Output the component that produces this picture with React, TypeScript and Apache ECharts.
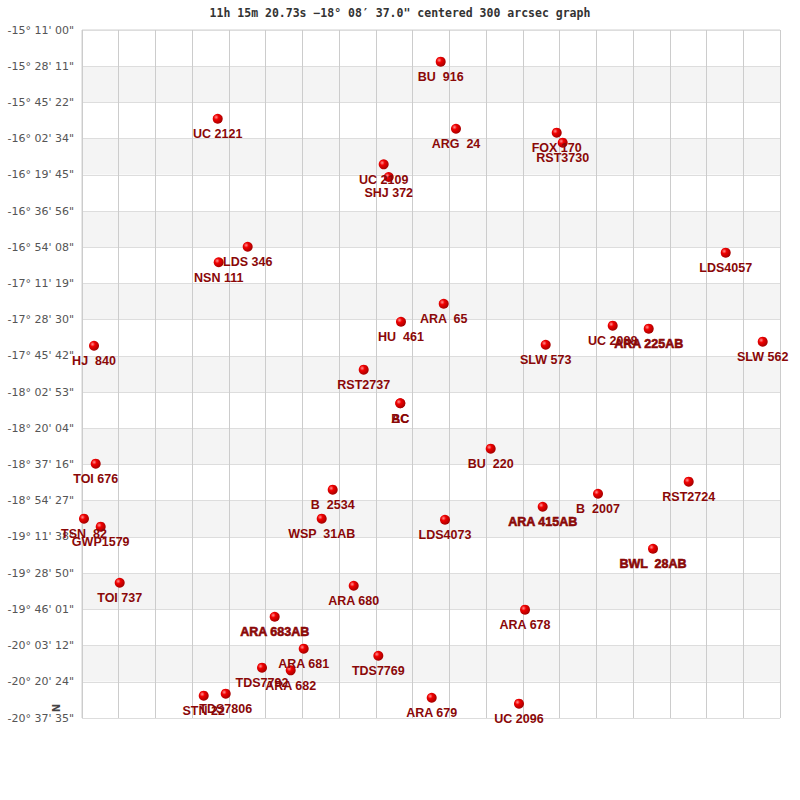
import React, { useEffect, useRef } from "react";
import * as echarts from "echarts";

const TITLE = "11h 15m 20.73s \u221218\u00b0 08\u2032 37.0\" centered 300 arcsec graph";

const DEC_LABELS = [
  "-15\u00b0 11' 00\"", "-15\u00b0 28' 11\"", "-15\u00b0 45' 22\"", "-16\u00b0 02' 34\"",
  "-16\u00b0 19' 45\"", "-16\u00b0 36' 56\"", "-16\u00b0 54' 08\"", "-17\u00b0 11' 19\"",
  "-17\u00b0 28' 30\"", "-17\u00b0 45' 42\"", "-18\u00b0 02' 53\"", "-18\u00b0 20' 04\"",
  "-18\u00b0 37' 16\"", "-18\u00b0 54' 27\"", "-19\u00b0 11' 38\"", "-19\u00b0 28' 50\"",
  "-19\u00b0 46' 01\"", "-20\u00b0 03' 12\"", "-20\u00b0 20' 24\"", "-20\u00b0 37' 35\"",
];

// star names, grid-column (east->west) and grid-row (north->south) positions
const NAMES = [
  "BU  916", "UC 2121", "ARG  24", "FOX 170", "RST3730", "UC 2109", "SHJ 372",
  "LDS 346", "NSN 111", "LDS4057", "ARA  65", "HU  461", "UC 2088", "ARA 225AB",
  "SLW 573", "SLW 562", "HJ  840", "RST2737", "AC", "BC", "BU  220", "TOI 676",
  "RST2724", "B  2534", "B  2007", "ARA 415AB", "TSN  82", "WSP  31AB", "LDS4073",
  "GWP1579", "BWL  28AB", "TOI 737", "ARA 680", "ARA 683AB", "ARA 678", "ARA 681",
  "TDS7769", "TDS7792", "ARA 682", "ARA 679", "STN 22", "TDS7806", "UC 2096",
];
const XS = [
  9.764, 3.694, 10.18, 12.922, 13.085, 8.212, 8.349,
  4.51, 3.721, 17.522, 9.846, 8.683, 14.446, 15.426,
  12.622, 18.529, 0.327, 7.668, 8.664, 8.664, 11.125, 0.373,
  16.515, 6.824, 14.046, 12.54, 0.054, 6.525, 9.881,
  0.509, 15.543, 1.026, 7.396, 5.245, 12.059, 6.035,
  8.066, 4.9, 5.681, 9.519, 3.313, 3.912, 11.895,
];
const YS = [
  0.875, 2.45, 2.726, 2.836, 3.112, 3.709, 4.06,
  5.985, 6.415, 6.15, 7.559, 8.056, 8.166, 8.249,
  8.691, 8.608, 8.719, 9.381, 10.309, 10.309, 11.563, 11.977,
  12.474, 12.695, 12.806, 13.165, 13.496, 13.496, 13.524,
  13.717, 14.325, 15.264, 15.347, 16.203, 16.009, 17.086,
  17.28, 17.611, 17.683, 18.44, 18.384, 18.329, 18.605,
];
// labels that are printed twice (multiple components at one spot)
const DOUBLED = ["ARA 225AB", "ARA 415AB", "BWL  28AB", "ARA 683AB"];

const GRID_N = 19;

export default function App() {
  const ref = useRef<HTMLDivElement>(null);
  useEffect(() => {
    if (!ref.current) return;
    const chart = echarts.init(ref.current, null, { renderer: "svg" });
    const ball = new echarts.graphic.RadialGradient(0.35, 0.35, 0.7, [
      { offset: 0, color: "#ff9090" },
      { offset: 0.35, color: "#f00000" },
      { offset: 1, color: "#a00000" },
    ]);
    const data = NAMES.map((n, i) => {
      const d: any = { value: [XS[i], YS[i]], name: n };
      if (DOUBLED.includes(n)) {
        d.label = { textBorderColor: "#8a0808", textBorderWidth: 0.6 };
      }
      return d;
    });
    chart.setOption({
      animation: false,
      backgroundColor: "#ffffff",
      title: {
        text: TITLE,
        left: "center",
        top: 2,
        textStyle: {
          fontFamily: "DejaVu Sans Mono",
          fontSize: 11.5,
          fontWeight: "bold",
          color: "#333333",
        },
      },
      grid: {
        left: 82,
        top: 30,
        width: 698,
        height: 688,
        show: true,
        borderColor: "#d0d0d0",
        borderWidth: 1,
      },
      xAxis: {
        type: "value",
        min: 0,
        max: GRID_N,
        interval: 1,
        axisLine: { show: false },
        axisTick: { show: false },
        axisLabel: { show: false },
        splitLine: { show: true, lineStyle: { color: "#cccccc", width: 1 } },
      },
      yAxis: {
        type: "value",
        min: 0,
        max: GRID_N,
        interval: 1,
        inverse: true,
        axisLine: { show: false },
        axisTick: { show: false },
        axisLabel: {
          margin: 8,
          color: "#555555",
          fontFamily: "DejaVu Sans",
          fontSize: 11,
          formatter: (v: number) => DEC_LABELS[Math.round(v)] ?? "",
        },
        splitLine: { show: true, lineStyle: { color: "#dddddd", width: 1 } },
        splitArea: { show: true, areaStyle: { color: ["#ffffff", "#f4f4f4"] } },
      },
      graphic: [
        {
          type: "text",
          x: 56,
          y: 708,
          rotation: Math.PI / 2,
          style: {
            text: "N",
            fill: "#444444",
            font: "bold 10px 'DejaVu Sans'",
            align: "center",
            verticalAlign: "middle",
          },
        },
      ],
      series: [
        {
          type: "scatter",
          symbol: "circle",
          symbolSize: 10,
          itemStyle: { color: ball, opacity: 1 },
          label: {
            show: true,
            position: "bottom",
            distance: 4,
            formatter: (p: any) => p.name,
            color: "#8a0808",
            fontFamily: "Liberation Sans",
            fontSize: 12.5,
            fontWeight: "bold",
          },
          labelLayout: { hideOverlap: false },
          data,
          z: 5,
        },
      ],
    });
    return () => chart.dispose();
  }, []);
  return (
    <div
      ref={ref}
      style={{ position: "fixed", left: 0, top: 0, width: 800, height: 800 }}
    />
  );
}
